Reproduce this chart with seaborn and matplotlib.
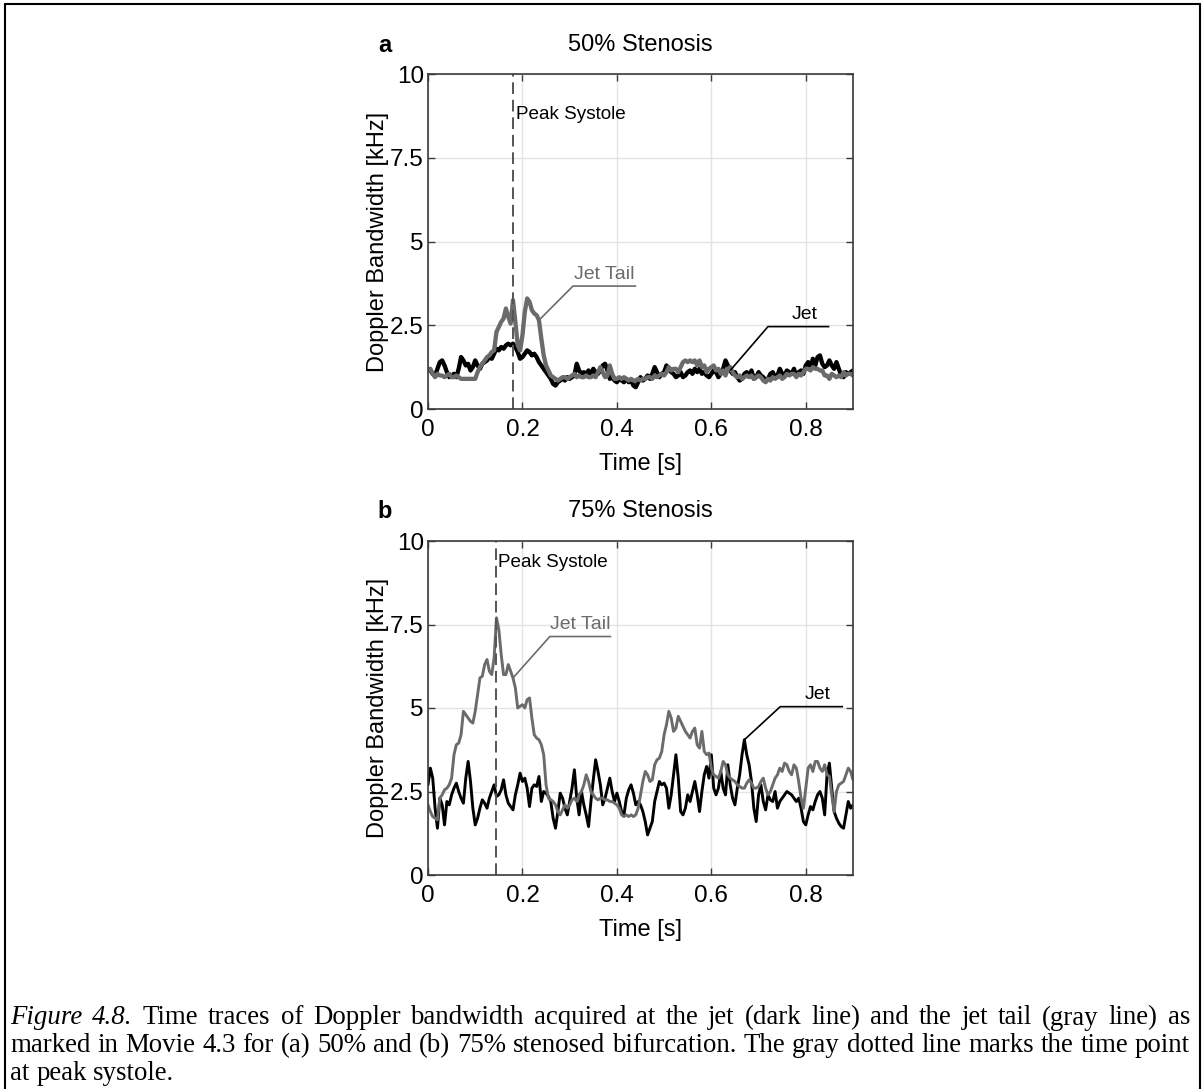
import numpy as np
import pandas as pd
import matplotlib
matplotlib.use("Agg")
import matplotlib.pyplot as plt
from matplotlib.lines import Line2D
import seaborn as sns

# Doppler bandwidth traces [kHz], sampled every 5 ms from 0 to 0.9 s
DT = 0.005

jet_50 = [
    1.2, 1.15, 1.05, 1.0, 1.2, 1.4, 1.45, 1.3, 1.1, 0.95,
    1.0, 1.05, 0.95, 1.2, 1.55, 1.45, 1.3, 1.35, 1.15, 1.25,
    1.45, 1.3, 1.2, 1.35, 1.4, 1.45, 1.55, 1.5, 1.65, 1.8,
    1.75, 1.85, 1.8, 1.9, 1.95, 1.9, 1.95, 1.85, 1.7, 1.5,
    1.55, 1.65, 1.75, 1.7, 1.6, 1.65, 1.55, 1.4, 1.3, 1.2,
    1.1, 1.0, 0.9, 0.75, 0.7, 0.8, 0.85, 0.9, 0.85, 0.95,
    0.9, 0.95, 1.0, 1.35, 1.15, 1.05, 1.1, 1.05, 1.15, 1.0,
    1.2, 1.1, 1.05, 1.15, 1.3, 1.35, 1.15, 0.9, 0.95, 0.85,
    0.8, 0.9, 0.85, 0.8, 0.9, 0.8, 0.85, 0.7, 0.65, 0.8,
    0.95, 0.85, 0.9, 1.0, 0.9, 1.05, 1.25, 1.1, 0.95, 1.05,
    1.1, 1.3, 1.2, 1.1, 1.05, 0.95, 1.0, 1.1, 0.95, 1.0,
    1.1, 1.15, 1.05, 1.2, 1.1, 1.2, 1.05, 1.1, 1.0, 0.95,
    1.05, 1.15, 1.1, 0.95, 1.05, 1.2, 1.45, 1.3, 1.15, 1.05,
    1.1, 0.95, 0.85, 0.9, 1.05, 1.1, 1.0, 1.15, 0.9, 0.95,
    1.1, 1.0, 0.95, 0.85, 0.9, 1.05, 1.1, 0.95, 1.0, 1.2,
    1.05, 1.0, 1.15, 1.1, 1.05, 1.2, 1.0, 1.1, 1.15, 1.05,
    1.3, 1.4, 1.25, 1.5, 1.3, 1.55, 1.6, 1.35, 1.25, 1.3,
    1.45, 1.3, 1.2, 1.4, 1.2, 1.0, 0.95, 1.1, 1.05, 1.1,
    1.15,
]

tail_50 = [
    1.15, 1.2, 1.05, 0.95, 1.05, 1.0, 1.0, 0.95, 1.0, 1.05,
    0.95, 0.95, 1.0, 0.95, 0.9, 0.9, 0.9, 0.9, 0.9, 0.9,
    0.9, 1.1, 1.25, 1.35, 1.45, 1.55, 1.6, 1.7, 1.75, 2.3,
    2.45, 2.6, 2.7, 3.0, 2.75, 2.55, 3.25, 2.6, 1.9, 1.75,
    2.2, 2.9, 3.3, 3.2, 2.95, 2.85, 2.8, 2.65, 2.1, 1.6,
    1.3, 1.15, 1.0, 0.95, 0.9, 0.85, 0.9, 0.95, 0.95, 0.9,
    0.95, 1.0, 1.05, 0.95, 1.0, 0.95, 0.95, 1.0, 0.95, 0.95,
    1.0, 0.95, 1.1, 1.25, 1.1, 0.95, 1.0, 1.3, 1.05, 0.9,
    0.9, 0.95, 0.9, 0.95, 0.9, 0.85, 0.9, 0.85, 0.85, 0.9,
    0.85, 0.9, 0.9, 0.95, 0.95, 0.9, 1.0, 0.95, 1.0, 1.05,
    1.0, 1.1, 1.25, 1.15, 1.2, 1.2, 1.1, 1.25, 1.4, 1.45,
    1.4, 1.45, 1.4, 1.45, 1.3, 1.45, 1.25, 1.3, 1.1, 1.2,
    1.25, 1.3, 1.15, 1.2, 1.05, 1.15, 1.0, 1.2, 1.25, 1.1,
    1.0, 0.95, 1.0, 0.9, 0.95, 1.0, 0.95, 1.0, 0.9, 0.95,
    1.0, 0.95, 0.85, 0.8, 0.9, 0.85, 0.95, 0.9, 0.95, 1.0,
    0.9, 0.95, 1.05, 1.0, 1.05, 1.05, 0.95, 1.05, 1.0, 1.1,
    1.2, 1.2, 1.15, 1.25, 1.2, 1.2, 1.15, 1.15, 1.0, 1.0,
    0.9, 1.05, 1.0, 0.95, 1.0, 0.95, 1.1, 1.0, 1.05, 1.05,
    1.0,
]

jet_75 = [
    2.7, 3.2, 2.9, 2.0, 1.4, 2.3, 2.1, 1.5, 2.2, 2.1,
    2.4, 2.6, 2.75, 2.5, 2.3, 2.15, 2.9, 3.4, 2.8, 2.0,
    1.5, 1.7, 2.0, 2.25, 2.15, 2.0, 2.3, 2.5, 2.7, 2.35,
    2.4, 2.55, 2.85, 2.4, 2.15, 2.05, 1.95, 2.4, 2.7, 3.05,
    2.8, 2.9, 2.6, 2.05, 2.6, 2.7, 2.65, 2.95, 2.2, 2.5,
    2.45, 2.35, 2.2, 1.7, 1.4, 1.9, 2.45, 2.3, 2.0, 1.8,
    2.2, 2.6, 3.15, 2.3, 1.8, 2.5, 2.1, 1.8, 1.45, 2.2,
    2.85, 3.45, 3.1, 2.7, 2.1, 2.3, 2.6, 2.9, 2.5, 2.2,
    2.45, 2.2, 1.9, 1.8, 2.3, 2.55, 2.7, 2.45, 2.1, 2.2,
    2.1, 1.9, 1.6, 1.2, 1.4, 1.6, 2.2, 2.5, 2.8, 2.7,
    2.75, 2.6, 2.0, 2.4, 3.0, 3.6, 2.9, 1.9, 1.8, 2.0,
    2.4, 2.2, 2.5, 2.8, 2.4, 1.9, 2.5, 3.0, 3.25, 2.9,
    3.6, 2.6, 2.4, 2.6, 3.1, 2.6, 2.4, 3.3, 2.7, 2.3,
    2.1, 2.6, 3.0, 3.6, 4.05, 3.6, 3.3, 2.8, 2.0, 1.6,
    2.4, 2.7, 2.2, 1.95, 2.4, 2.25, 2.2, 2.5, 2.0, 2.2,
    2.3, 2.4, 2.5, 2.45, 2.4, 2.3, 2.2, 2.3, 2.0, 1.6,
    1.5, 1.8, 2.05, 1.95, 2.2, 2.4, 2.5, 2.3, 1.8, 3.0,
    3.35, 2.6, 1.9, 1.7, 1.55, 1.45, 1.4, 1.8, 2.2, 2.0,
    2.1,
]

tail_75 = [
    2.1, 1.9, 1.75, 1.7, 1.65, 2.3, 2.4, 2.55, 2.6, 2.7,
    2.9, 3.6, 3.9, 3.95, 4.2, 4.9, 4.8, 4.7, 4.6, 4.55,
    4.9, 5.4, 5.9, 5.95, 6.3, 6.45, 6.1, 6.0, 6.5, 7.7,
    7.35, 6.6, 6.0, 6.0, 6.3, 6.1, 5.9, 5.6, 5.0, 5.05,
    5.1, 5.0, 5.25, 5.3, 4.7, 4.2, 4.1, 4.05, 3.9, 3.6,
    2.7, 2.3, 2.25, 2.2, 2.1, 1.9, 1.8, 1.95, 2.1, 2.0,
    2.1, 2.25, 2.3, 2.2, 2.4, 2.5, 2.7, 3.0, 2.8, 2.5,
    2.4, 2.3, 2.25, 2.3, 2.3, 2.25, 2.25, 2.2, 2.2, 2.15,
    2.1, 2.0, 1.8, 1.75, 1.8, 1.75, 1.8, 1.75, 1.8, 2.0,
    2.4, 2.8, 3.1, 3.0, 2.8, 2.85, 3.3, 3.45, 3.5, 3.7,
    4.2, 4.5, 4.9, 4.7, 4.3, 4.4, 4.75, 4.6, 4.45, 4.3,
    4.2, 4.1, 4.3, 4.4, 3.9, 3.8, 4.3, 3.7, 3.6, 3.65,
    3.2, 3.0, 2.95, 2.9, 3.1, 3.4, 3.3, 3.0, 2.9, 2.85,
    2.8, 2.7, 2.65, 2.6, 2.6, 2.75, 2.85, 2.75, 2.6, 2.6,
    2.65, 2.8, 2.9, 2.6, 2.4, 2.5, 2.7, 2.9, 3.0, 3.2,
    3.1, 3.35, 3.3, 3.1, 3.0, 3.3, 3.2, 2.8, 2.3, 2.0,
    2.6, 3.2, 3.3, 3.1, 3.4, 3.4, 3.2, 3.1, 3.3, 3.0,
    2.95, 2.4, 1.9, 2.5, 2.7, 2.75, 2.8, 3.0, 3.2, 3.1,
    2.85,
]

panel_letters = ["a", "b"]
panel_titles = ["50% Stenosis", "75% Stenosis"]
peak_systole = [0.18, 0.143]
x_ticks = [0, 0.2, 0.4, 0.6, 0.8]
x_tick_labels = ["0", "0.2", "0.4", "0.6", "0.8"]
y_ticks = [0, 2.5, 5, 7.5, 10]
y_tick_labels = ["0", "2.5", "5", "7.5", "10"]

caption_label = "Figure 4.8."
caption_lines = [
    "Time traces of Doppler bandwidth acquired at the jet (dark line) and the jet tail (gray line) as",
    "marked in Movie 4.3 for (a) 50% and (b) 75% stenosed bifurcation. The gray dotted line marks the time point",
    "at peak systole.",
]

JET_COLOR = "#000000"
TAIL_COLOR = "#6b6b6b"


def trace_frame(jet, tail):
    return pd.DataFrame({
        "Time": np.concatenate([np.arange(len(jet)) * DT,
                                np.arange(len(tail)) * DT]),
        "Bandwidth": np.concatenate([jet, tail]),
        "Site": ["Jet"] * len(jet) + ["Jet Tail"] * len(tail),
    })


sns.set_theme(style="whitegrid")
plt.rcParams["font.family"] = ["Liberation Sans", "DejaVu Sans"]

fig = plt.figure(figsize=(12.02, 10.89), dpi=100)
fig.patch.set_facecolor("white")

W, H = 1202, 1089
axes_boxes = [(428, 74, 853, 409), (428, 541, 853, 875)]

# callout placement per panel: (label, index into the trace, underline x0, x1, y)
callouts = [
    [("Jet Tail", 47, 0.307, 0.441, 3.67), ("Jet", 128, 0.72, 0.85, 2.46)],
    [("Jet Tail", 36, 0.258, 0.388, 7.14), ("Jet", 134, 0.746, 0.879, 5.04)],
]
peak_label_y = [8.78, 9.37]

datasets = [(jet_50, tail_50), (jet_75, tail_75)]
line_widths = [3.1, 2.1]

for k, (x0, y0, x1, y1) in enumerate(axes_boxes):
    ax = fig.add_axes([x0 / W, 1 - y1 / H, (x1 - x0) / W, (y1 - y0) / H])
    ax.set_facecolor("white")
    jet, tail = datasets[k]
    df = trace_frame(jet, tail)
    sns.lineplot(data=df, x="Time", y="Bandwidth", hue="Site",
                 palette={"Jet": JET_COLOR, "Jet Tail": TAIL_COLOR},
                 hue_order=["Jet", "Jet Tail"], linewidth=line_widths[k],
                 legend=False, ax=ax, estimator=None, sort=False)

    ax.set_xlim(0, 0.9)
    ax.set_ylim(0, 10)
    ax.set_xticks(x_ticks)
    ax.set_xticklabels(x_tick_labels)
    ax.set_yticks(y_ticks)
    ax.set_yticklabels(y_tick_labels)
    ax.grid(True, color="#e4e4e4", linewidth=1.0)
    ax.set_axisbelow(True)
    for side in ax.spines.values():
        side.set_color("#3a3a3a")
        side.set_linewidth(1.2)
        side.set_visible(True)
    ax.tick_params(axis="both", which="both", direction="in", length=5,
                   width=1, color="#3a3a3a", labelsize=17.5, labelcolor="black",
                   top=True, right=True, bottom=True, left=True, pad=3)
    ax.tick_params(axis="x", pad=7)
    ax.set_xlabel("Time [s]", fontsize=17, color="black", labelpad=9)
    ax.set_ylabel("Doppler Bandwidth [kHz]", fontsize=17, color="black",
                  labelpad=1)

    # peak systole marker
    ps = peak_systole[k]
    ax.axvline(ps, color="#555555", linestyle=(0, (6, 3)), linewidth=1.4)
    ax.text(ps + 0.006, peak_label_y[k], "Peak Systole",
            fontsize=13.6, color="black", ha="left", va="center")

    # labelled callouts pointing at the traces
    for label, idx, ux0, ux1, uy in callouts[k]:
        series = tail if label == "Jet Tail" else jet
        color = TAIL_COLOR if label == "Jet Tail" else JET_COLOR
        px, py = idx * DT, series[idx]
        ax.plot([px, ux0, ux1], [py, uy, uy], color=color, linewidth=1.2,
                solid_capstyle="butt")
        ax.text((ux0 + ux1) / 2 + (0.012 if label == "Jet" else 0), uy + 0.1,
                label, fontsize=14, color=color, ha="center", va="bottom")

    # panel title and letter
    cy = (45 if k == 0 else 511) / H
    fig.text((x0 + x1) / 2 / W, 1 - cy, panel_titles[k], fontsize=17,
             ha="center", va="center", color="black")
    fig.text(385 / W, 1 - cy, panel_letters[k], fontsize=17,
             fontweight="bold", ha="center", va="center", color="black")

# figure caption, justified between the left and right text margins
cap_font = ["Liberation Serif", "DejaVu Serif"]
cap_size = 19.4
left_px, right_px = 10, 1190
y_lines = [1018, 1046, 1074]
renderer = fig.canvas.get_renderer()


def text_width(s, italic=False):
    a = fig.text(0, 0, s, fontsize=cap_size, family=cap_font,
                 style="italic" if italic else "normal")
    w = a.get_window_extent(renderer).width
    a.remove()
    return w


space_w = text_width("a a") - 2 * text_width("a")


def place_words(words, y_px, justify):
    arts = []
    for w, italic in words:
        arts.append(fig.text(0, 1 - y_px / H, w, fontsize=cap_size,
                             family=cap_font,
                             style="italic" if italic else "normal",
                             ha="left", va="center", color="black"))
    widths = [a.get_window_extent(renderer).width for a in arts]
    gap = space_w
    if justify and len(arts) > 1:
        gap = (right_px - left_px - sum(widths)) / (len(arts) - 1)
    x = left_px
    for a, w in zip(arts, widths):
        a.set_x(x / W)
        x += w + gap


line_words = [
    [(w, True) for w in caption_label.split()]
    + [(w, False) for w in caption_lines[0].split()],
    [(w, False) for w in caption_lines[1].split()],
    [(w, False) for w in caption_lines[2].split()],
]
for i, words in enumerate(line_words):
    place_words(words, y_lines[i], justify=(i < 2))

# frame around the figure
for xs, ys in [((5, 5), (4, H)), ((5, 1200), (4, 4)), ((1200, 1200), (4, H))]:
    fig.add_artist(Line2D([xs[0] / W, xs[1] / W], [1 - ys[0] / H, 1 - ys[1] / H],
                          transform=fig.transFigure, color="black",
                          linewidth=1.5))

fig.savefig("out.png", dpi=100, facecolor="white")
